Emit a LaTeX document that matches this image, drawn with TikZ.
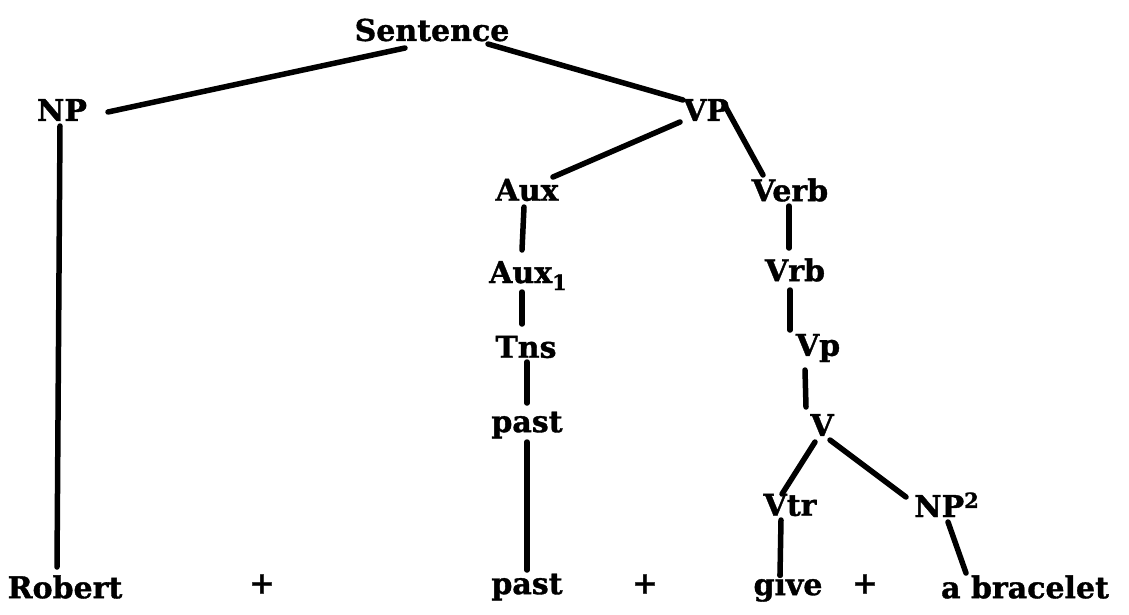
\documentclass[tikz,border=0pt]{standalone}
\usepackage{fontspec}
\setmainfont[BoldFeatures={FakeBold=1.2}]{DejaVu Serif}
\usetikzlibrary{calc}
\begin{document}
\begin{tikzpicture}[x=1pt,y=-1pt,
  lbl/.style={font=\bfseries\fontsize{30}{34}\selectfont, inner sep=2pt},
  br/.style={line width=5.5pt, line cap=round}]
\useasboundingbox (0,0) rectangle (1129,614);
\node[lbl] (s) at (432,30) {Sentence};
\node[lbl] (np) at (62,110) {NP};
\node[lbl] (vp) at (706,110) {VP};
\node[lbl] (aux) at (527,190) {Aux};
\node[lbl] (verb) at (790,190) {Verb};
\node[lbl,anchor=base west] (aux1) at (487,283) {Aux$_{\mathbf 1}$};
\node[lbl] (vrb) at (795,270) {Vrb};
\node[lbl] (tns) at (526,347) {Tns};
\node[lbl] (vpp) at (818,348) {Vp};
\node[lbl] (past1) at (527,425) {past};
\node[lbl] (v) at (822,425) {V};
\node[lbl] (vtr) at (790,505) {Vtr};
\node[lbl,anchor=base west] (np2) at (912,517) {NP$^{\mathbf 2}$};
\node[lbl] (robert) at (65,587) {Robert};
\node[lbl] (p1) at (262,584) {+};
\node[lbl] (past2) at (527,587) {past};
\node[lbl] (p2) at (645,584) {+};
\node[lbl] (give) at (788,587) {give};
\node[lbl] (p3) at (865,584) {+};
\node[lbl] (brac) at (1025,587) {a bracelet};
\draw[br] ($(s)+(-27,18)$) -- ($(np)+(46,2)$);
\draw[br] ($(s)+(56,14)$) -- ($(vp)+(-23,-10)$);
\draw[br] ($(vp)+(-26,12)$) -- ($(aux)+(26,-13)$);
\draw[br] ($(vp)+(18,-6)$) -- ($(verb)+(-27,-15)$);
\draw[br] ($(aux)+(-3,17)$) -- ($(aux1.base west)+(35,-33)$);
\draw[br] ($(aux1.base west)+(35,9)$) -- ($(tns)+(-4,-23)$);
\draw[br] ($(tns)+(1,15)$) -- ($(past1)+(0,-22)$);
\draw[br] ($(past1)+(0,17)$) -- ($(past2)+(0,-17)$);
\draw[br] ($(np)+(-2,16)$) -- ($(robert)+(-8,-20)$);
\draw[br] ($(verb)+(-1,16)$) -- ($(vrb)+(-6,-22)$);
\draw[br] ($(vrb)+(-5,20)$) -- ($(vpp)+(-28,-18)$);
\draw[br] ($(vpp)+(-13,22)$) -- ($(v)+(-16,-18)$);
\draw[br] ($(v)+(-7,17)$) -- ($(vtr)+(-8,-11)$);
\draw[br] ($(v)+(8,15)$) -- ($(np2.base west)+(-6,-20)$);
\draw[br] ($(vtr)+(-9,15)$) -- ($(give)+(-8,-12)$);
\draw[br] ($(np2.base west)+(36,5)$) -- ($(brac)+(-59,-14)$);
\end{tikzpicture}
\end{document}
